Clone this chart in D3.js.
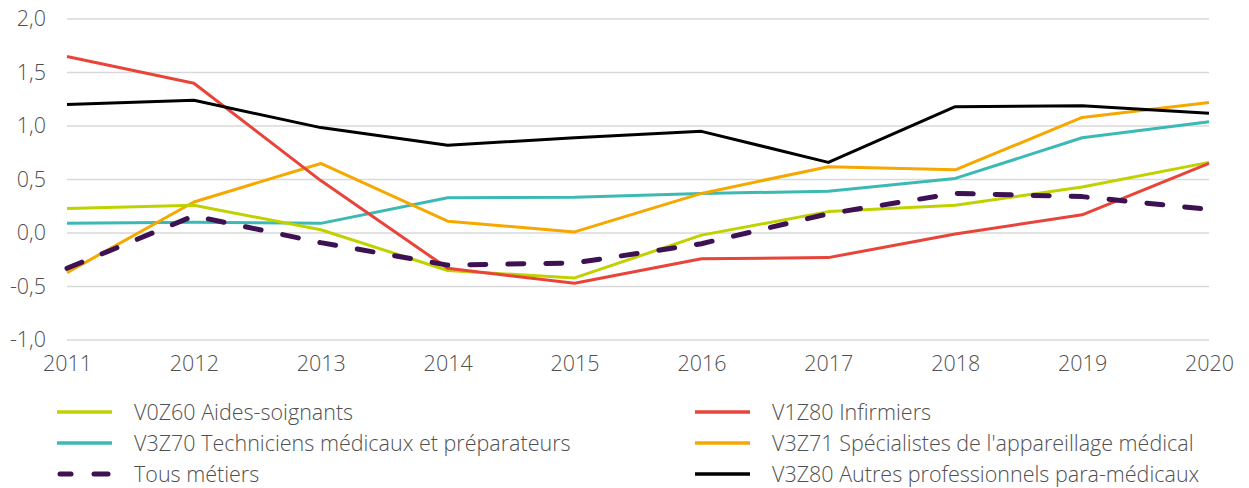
<!DOCTYPE html>
<html><head><meta charset="utf-8">
<script src="https://cdn.jsdelivr.net/npm/d3@7"></script>
<style>body{margin:0;background:#fff}svg{display:block}text{font-family:"Open Sans",sans-serif;font-weight:300}</style>
</head><body><svg id="c" width="1249" height="488"></svg>
<script>
const years = [2011,2012,2013,2014,2015,2016,2017,2018,2019,2020];
const yTicks = [-1.0,-0.5,0.0,0.5,1.0,1.5,2.0];
const aidesSoignants = [0.23,0.26,0.03,-0.35,-0.42,-0.02,0.20,0.26,0.43,0.66];
const infirmiers = [1.65,1.40,0.49,-0.33,-0.47,-0.24,-0.23,-0.01,0.17,0.65];
const techniciens = [0.09,0.10,0.09,0.33,0.335,0.37,0.39,0.51,0.89,1.04];
const specialistes = [-0.37,0.29,0.65,0.11,0.01,0.37,0.62,0.59,1.08,1.22];
const tousMetiers = [-0.33,0.16,-0.09,-0.30,-0.28,-0.10,0.18,0.37,0.34,0.22];
const autres = [1.20,1.24,0.985,0.82,0.89,0.95,0.66,1.18,1.19,1.12];

const series = [
  {name:"V0Z60 Aides-soignants", values:aidesSoignants, color:"#bfd200", dash:false},
  {name:"V1Z80 Infirmiers", values:infirmiers, color:"#e8443a", dash:false},
  {name:"V3Z70 Techniciens médicaux et préparateurs", values:techniciens, color:"#3bb9b4", dash:false},
  {name:"V3Z71 Spécialistes de l'appareillage médical", values:specialistes, color:"#f6a800", dash:false},
  {name:"Tous métiers", values:tousMetiers, color:"#3d1152", dash:true},
  {name:"V3Z80 Autres professionnels para-médicaux", values:autres, color:"#000000", dash:false}
];
const drawOrder = [2,3,0,1,5,4];

const svg = d3.select("#c");
const x = d3.scaleLinear().domain([2011,2020]).range([67,1209]);
const y = d3.scaleLinear().domain([-1,2]).range([340,19]);
const fmt = v => d3.format(".1f")(v).replace(".",",").replace("−","-");

// grid
svg.append("g").selectAll("line").data(yTicks).join("line")
  .attr("x1",x(2011)).attr("x2",x(2020))
  .attr("y1",d=>y(d)).attr("y2",d=>y(d))
  .attr("stroke","#d9d9d9").attr("stroke-width",1.3);

// y axis labels
const ya = svg.append("g").attr("transform","translate(46,0)")
  .call(d3.axisLeft(y).tickValues(yTicks).tickSize(0).tickPadding(0).tickFormat(fmt));
ya.select(".domain").remove();
ya.selectAll("text").attr("font-size",21.5).attr("fill","#505050").attr("font-family","Open Sans").attr("font-weight",300);

// x axis labels
const xa = svg.append("g").attr("transform","translate(0,356)")
  .call(d3.axisBottom(x).tickValues(years).tickSize(0).tickPadding(0).tickFormat(d3.format("d")));
xa.select(".domain").remove();
xa.selectAll("text").attr("font-size",21.5).attr("fill","#505050").attr("font-family","Open Sans").attr("font-weight",300);

const line = d3.line().x((d,i)=>x(years[i])).y(d=>y(d));
svg.append("g").selectAll("path").data(drawOrder.map(i=>series[i])).join("path")
  .attr("d",d=>line(d.values))
  .attr("fill","none")
  .attr("stroke",d=>d.color)
  .attr("stroke-width",d=>d.dash?5:3)
  .attr("stroke-dasharray",d=>d.dash?"16,22":null)
  .attr("stroke-linecap",d=>d.dash?"round":"butt")
  .attr("stroke-linejoin","round");

// legend
const lg = svg.append("g");
series.forEach((s,i)=>{
  const col = i%2, row = Math.floor(i/2);
  const lx = col===0?57:695, ly = 412 + row*31;
  const g = lg.append("g").attr("transform",`translate(${lx},${ly})`);
  if(s.dash){
    g.append("line").attr("x1",3).attr("x2",14).attr("y1",0).attr("y2",0)
      .attr("stroke",s.color).attr("stroke-width",5).attr("stroke-linecap","round");
    g.append("line").attr("x1",37).attr("x2",51).attr("y1",0).attr("y2",0)
      .attr("stroke",s.color).attr("stroke-width",5).attr("stroke-linecap","round");
  } else {
    g.append("line").attr("x1",0).attr("x2",55).attr("y1",0).attr("y2",0)
      .attr("stroke",s.color).attr("stroke-width",3.5);
  }
  g.append("text").attr("x",77).attr("y",0).attr("dy","0.35em")
    .attr("font-size",21.5).attr("font-weight",300).attr("fill","#505050").text(s.name);
});
</script></body></html>
